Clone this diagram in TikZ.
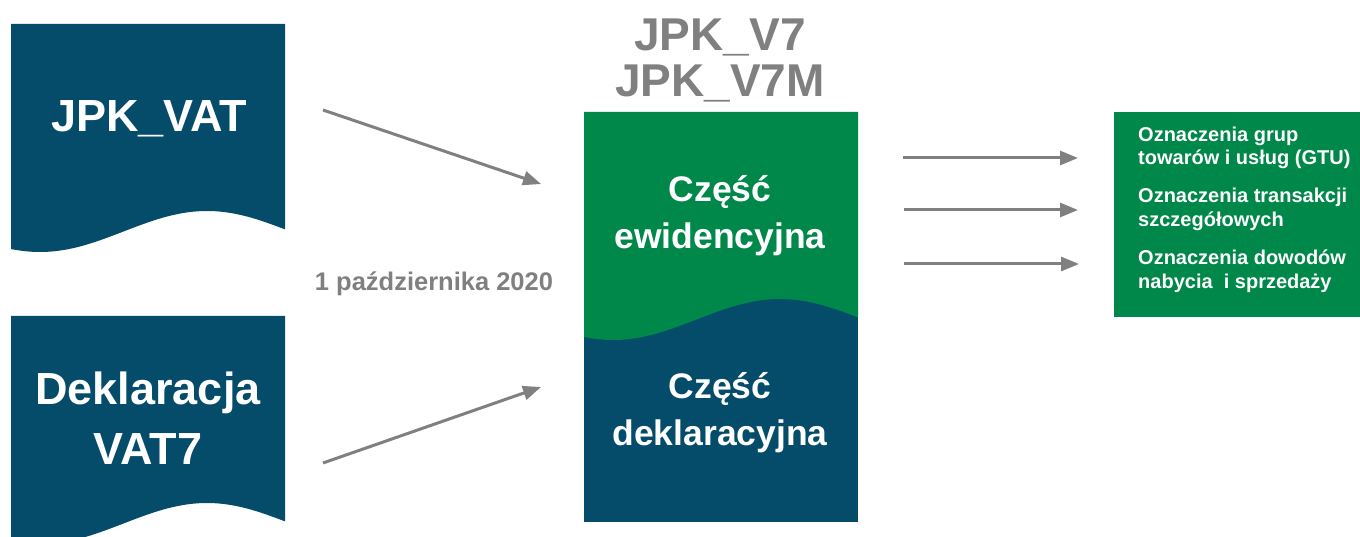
\documentclass[tikz,border=0pt]{standalone}
\usepackage{fontspec}
\setmainfont{Liberation Sans}
\usetikzlibrary{arrows.meta}
\definecolor{docblue}{RGB}{4,76,106}
\definecolor{docgreen}{RGB}{0,136,74}
\definecolor{txtgray}{RGB}{128,128,128}
\definecolor{arrgray}{RGB}{128,128,128}
\newcommand{\fsz}[2]{\fontsize{#1}{#2}\selectfont}
\tikzset{
  whitetxt/.style={text=white, inner sep=0pt},
  graytxt/.style={text=txtgray, inner sep=0pt},
  conn/.style={draw=arrgray, line width=3pt, -{Triangle[length=18pt,width=14pt]}},
}
\begin{document}
\begin{tikzpicture}[x=1pt,y=-1pt]
\useasboundingbox (0,0) rectangle (1360,537);
\clip (0,0) rectangle (1360,537);
% left documents
\fill[docblue] (11,24) -- (285,24) -- plot[domain=285:11,samples=80] (\x,{231.5+20.5*cos(1.07784*(\x-40))}) -- cycle;
\fill[docblue] (11,316) -- (285,316) -- plot[domain=285:11,samples=80] (\x,{523.5+20.5*cos(1.07784*(\x-40))}) -- cycle;
% middle document
\fill[docblue] (584,112) rectangle (858,522);
\fill[docgreen] (584,112) -- (858,112) -- plot[domain=858:584,samples=80] (\x,{319.5+20.5*cos(1.07784*(\x-613))}) -- cycle;
% right box
\fill[docgreen] (1114,112) rectangle (1360,317);

% texts (base anchor = baseline of the last line)
\node[whitetxt, anchor=base, font=\bfseries\fsz{45}{52}] (jpkvat) at (149,132) {JPK\_VAT};
\node[whitetxt, anchor=base, align=center, font=\bfseries\fsz{45}{60}] (vat7) at (148,464) {Deklaracja\\VAT7};
\node[graytxt, anchor=base, align=center, font=\bfseries\fsz{46}{46}] (title) at (720,97) {JPK\_V7\\JPK\_V7M};
\node[whitetxt, anchor=base, align=center, font=\bfseries\fsz{35.5}{47}] (ewid) at (720,249) {Część\\ewidencyjna};
\node[whitetxt, anchor=base, align=center, font=\bfseries\fsz{35.5}{47}] (dekl) at (720,445) {Część\\deklaracyjna};
\node[graytxt, anchor=base, font=\bfseries\fsz{25.5}{28}] (date) at (434,291) {1 października 2020};
\node[whitetxt, anchor=base west, align=left, font=\bfseries\fsz{20}{23.5}] (gtu) at (1138,165) {Oznaczenia grup\\towarów i usług (GTU)};
\node[whitetxt, anchor=base west, align=left, font=\bfseries\fsz{20}{23.5}] (trans) at (1138,226.5) {Oznaczenia transakcji\\szczegółowych};
\node[whitetxt, anchor=base west, align=left, font=\bfseries\fsz{20}{23.5}] (dow) at (1138,288.5) {Oznaczenia dowodów\\nabycia\ \ i sprzedaży};

% connector ends
\coordinate (a1s) at (323,110);
\coordinate (a1e) at (541,184);
\coordinate (a2s) at (323,463);
\coordinate (a2e) at (541,387);
\coordinate (r1s) at (903,158);
\coordinate (r1e) at (1078,158);
\coordinate (r2s) at (904,210);
\coordinate (r2e) at (1078,210);
\coordinate (r3s) at (904,264);
\coordinate (r3e) at (1079,264);
\draw[conn] (a1s) -- (a1e);
\draw[conn] (a2s) -- (a2e);
\draw[conn] (r1s) -- (r1e);
\draw[conn] (r2s) -- (r2e);
\draw[conn] (r3s) -- (r3e);
\end{tikzpicture}
\end{document}
